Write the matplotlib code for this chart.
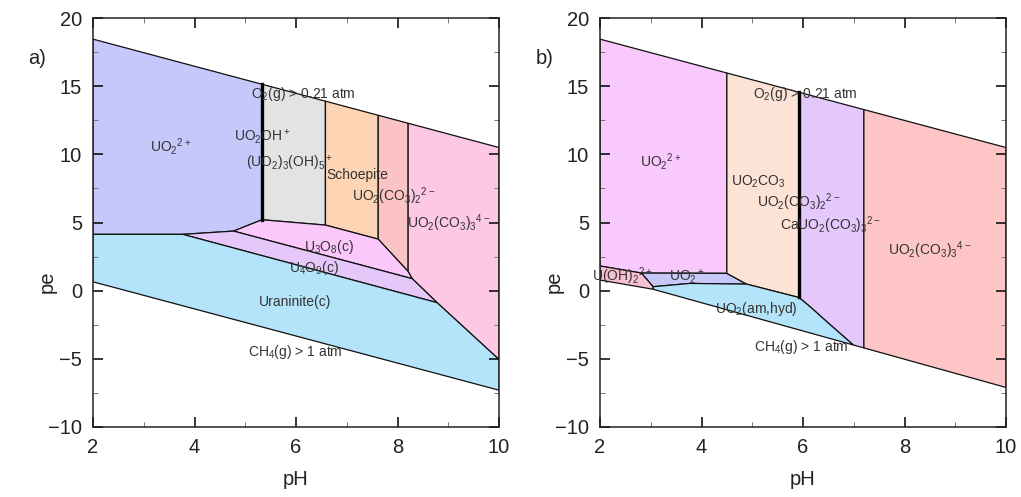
import numpy as np
import matplotlib
matplotlib.use("Agg")
import matplotlib.pyplot as plt

plt.rcParams['font.family'] = ['Liberation Sans', 'DejaVu Sans']
plt.rcParams['mathtext.default'] = 'regular'

# stability limits of water (pH, pe)
o2_ph = [2, 10]
o2_pe = [18.45, 10.5]
ch4_a_ph = [2, 10]
ch4_a_pe = [0.65, -7.3]
ch4_b_ph = [2, 3.05, 10]
ch4_b_pe = [0.78, 0.1, -7.1]


def top(ph):
    return float(np.interp(ph, o2_ph, o2_pe))


def low_b(ph):
    return float(np.interp(ph, ch4_b_ph, ch4_b_pe))


# ---- panel a) fields: (pH list, pe list)
a_uo2 = ([2, 5.33, 5.33, 4.77, 3.77, 2], [top(2), top(5.33), 5.2, 4.37, 4.13, 4.13])
a_hyd = ([5.33, 6.58, 6.58, 5.33], [top(5.33), top(6.58), 4.81, 5.2])
a_schoep = ([6.58, 7.62, 7.62, 6.58], [top(6.58), top(7.62), 3.78, 4.81])
a_dicarb = ([7.62, 8.21, 8.21, 7.62], [top(7.62), top(8.21), 1.4, 3.78])
a_tricarb = ([8.21, 10, 10, 8.78, 8.29, 8.21], [top(8.21), top(10), -5.05, -0.88, 0.88, 1.4])
a_u3o8 = ([5.33, 6.58, 7.62, 8.21, 8.29, 4.77], [5.2, 4.81, 3.78, 1.4, 0.88, 4.37])
a_u4o9 = ([4.77, 8.29, 8.78, 3.77], [4.37, 0.88, -0.88, 4.13])
a_uran = ([2, 3.77, 8.78, 10, 10, 2], [4.13, 4.13, -0.88, -5.05, ch4_a_pe[1], ch4_a_pe[0]])

a_fields = [a_uo2, a_hyd, a_schoep, a_dicarb, a_tricarb, a_u3o8, a_u4o9, a_uran]
a_colors = ['#c6c8fb', '#e3e3e3', '#fdd4b4', '#fbc3c3', '#fdc8e6', '#fbc8fb', '#e5c8f9', '#b4e4f9']
a_thick_ph = 5.33
a_thick_pe = 5.2

a_labels = ['UO$_2$$^{2+}$', 'O$_2$(g) > 0.21 atm', 'UO$_2$OH$^+$',
            '(UO$_2$)$_3$(OH)$_5$$^+$', 'Schoepite', 'UO$_2$(CO$_3$)$_2$$^{2-}$',
            'UO$_2$(CO$_3$)$_3$$^{4-}$', 'U$_3$O$_8$(c)', 'U$_4$O$_9$(c)',
            'Uraninite(c)', 'CH$_4$(g) > 1 atm']
a_lab_ph = [3.53, 6.14, 5.34, 5.88, 7.2, 7.93, 9.0, 6.65, 6.36, 5.98, 5.98]
a_lab_pe = [10.6, 14.4, 11.3, 9.3, 8.5, 6.9, 4.95, 3.2, 1.65, -0.8, -4.5]

# ---- panel b) fields
b_uo2 = ([2, 4.5, 4.5, 2.82, 2], [top(2), top(4.5), 1.27, 1.29, 1.81])
b_uoh = ([2, 2.82, 3.05, 3.05, 2], [1.81, 1.29, 0.29, 0.1, 0.78])
b_uo2p = ([2.82, 4.5, 4.89, 3.77, 3.05], [1.29, 1.27, 0.48, 0.53, 0.29])
b_carb = ([4.5, 5.92, 5.92, 4.89, 4.5], [top(4.5), top(5.92), -0.5, 0.48, 1.27])
b_dicarb = ([5.92, 7.2, 7.2, 6.99, 6.47, 6.14, 5.92],
            [top(5.92), top(7.2), low_b(7.2), low_b(6.99), -2.28, -1.18, -0.5])
b_tricarb = ([7.2, 10, 10, 7.2], [top(7.2), top(10), low_b(10), low_b(7.2)])
b_am = ([3.05, 3.05, 3.77, 4.89, 5.92, 6.14, 6.47, 6.99],
        [0.1, 0.29, 0.53, 0.48, -0.5, -1.18, -2.28, low_b(6.99)])

b_fields = [b_uo2, b_uoh, b_uo2p, b_carb, b_dicarb, b_tricarb, b_am]
b_colors = ['#f9c8fc', '#f8c0d4', '#c8c8f8', '#fde2d6', '#e4c8fb', '#fdc5c5', '#b4e4f9']
b_thick_ph = 5.92
b_thick_pe = -0.5

b_labels = ['UO$_2$$^{2+}$', 'O$_2$(g) > 0.21 atm', 'UO$_2$CO$_3$',
            'UO$_2$(CO$_3$)$_2$$^{2-}$', 'CaUO$_2$(CO$_3$)$_3$$^{2-}$',
            'UO$_2$(CO$_3$)$_3$$^{4-}$', 'U(OH)$_2$$^{2+}$', 'UO$_2$$^+$',
            'UO$_2$(am,hyd)', 'CH$_4$(g) > 1 atm']
b_lab_ph = [3.19, 6.04, 5.11, 5.91, 6.55, 8.49, 2.44, 3.72, 5.09, 5.97]
b_lab_pe = [9.45, 14.45, 8.0, 6.5, 4.8, 3.0, 1.05, 1.0, -1.37, -4.16]

fig = plt.figure(figsize=(10.21, 4.97), dpi=100)
ax_a = fig.add_axes([93 / 1021, 1 - 427 / 497, 406 / 1021, 409 / 497])
ax_b = fig.add_axes([600 / 1021, 1 - 427 / 497, 406 / 1021, 409 / 497])


def draw(ax, fields, colors, thick_ph, thick_pe, labels, lab_ph, lab_pe, tag):
    for (ph, pe), c in zip(fields, colors):
        ax.fill(ph, pe, facecolor=c, edgecolor='#111111', linewidth=0.9, zorder=1)
    # thick boundary line
    ax.plot([thick_ph, thick_ph], [top(thick_ph), thick_pe], color='black', lw=2.4, zorder=2)
    for s, x, y in zip(labels, lab_ph, lab_pe):
        ax.text(x, y, s, fontsize=10, color='#333333', ha='center', va='center', zorder=3)
    ax.set_xlim(2, 10)
    ax.set_ylim(-10, 20)
    ax.set_xticks([2, 4, 6, 8, 10])
    ax.set_xticks([3, 5, 7, 9], minor=True)
    ax.set_yticks([-10, -5, 0, 5, 10, 15, 20])
    ax.set_yticks([-7.5, -2.5, 2.5, 7.5, 12.5, 17.5], minor=True)
    ax.tick_params(which='both', direction='in', top=True, right=True,
                   labelsize=14.5, labelcolor='#222222')
    ax.tick_params(which='major', length=7.5, width=1.1, pad=8)
    ax.tick_params(which='minor', length=3.5, width=0.7, color='#777777')
    for sp in ax.spines.values():
        sp.set_linewidth(1.1)
        sp.set_color('#222222')
    ax.set_xlabel('pH', fontsize=14.5, color='#222222')
    ax.set_ylabel('pe', fontsize=14.5, color='#222222')
    ax.xaxis.set_label_coords(0.5, -0.105)
    ax.yaxis.set_label_coords(-0.09, 0.355)
    ax.text(-0.137, 0.9, tag, transform=ax.transAxes, fontsize=14.5,
            color='#222222', ha='center', va='center')


draw(ax_a, a_fields, a_colors, a_thick_ph, a_thick_pe, a_labels, a_lab_ph, a_lab_pe, 'a)')
draw(ax_b, b_fields, b_colors, b_thick_ph, b_thick_pe, b_labels, b_lab_ph, b_lab_pe, 'b)')

fig.savefig('out.png', dpi=100)
